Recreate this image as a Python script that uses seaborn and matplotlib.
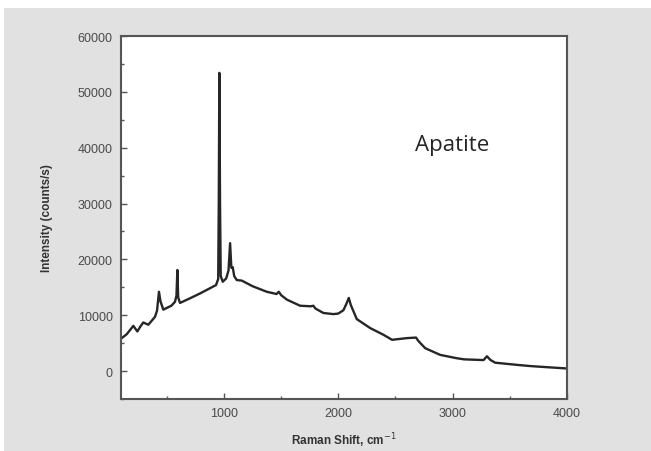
import matplotlib
matplotlib.use("Agg")
import matplotlib.pyplot as plt
import seaborn as sns
import pandas as pd
from matplotlib.patches import Rectangle
from matplotlib.ticker import MultipleLocator

raman_shift = [100, 150, 208, 225, 243, 270, 295, 339, 397, 415, 432, 445, 470, 540,
               572, 585, 593, 600, 616, 700, 791, 931, 950, 955, 960, 966, 972, 990,
               1020, 1040, 1054, 1065, 1077, 1090, 1112, 1156, 1250, 1375, 1460, 1480,
               1500, 1550, 1666, 1760, 1782, 1800, 1870, 1957, 2000, 2045, 2070, 2092,
               2110, 2162, 2279, 2395, 2470, 2600, 2680, 2700, 2760, 2891, 3036, 3100,
               3270, 3300, 3330, 3372, 3580, 3678, 3763, 3988]
intensity = [5800, 6600, 8100, 7600, 7100, 8000, 8700, 8300, 9700, 10800, 14200, 12500,
             11000, 11700, 12400, 13500, 18100, 13200, 12200, 13000, 13900, 15400, 16500,
             30000, 53400, 30000, 17000, 16000, 16600, 18000, 22900, 18500, 18600, 17000,
             16300, 16200, 15200, 14200, 13800, 14200, 13600, 12800, 11700, 11600, 11700,
             11200, 10400, 10200, 10300, 10900, 12000, 13100, 11800, 9300, 7700, 6500,
             5600, 5900, 6000, 5400, 4100, 2900, 2300, 2100, 1970, 2650, 2000, 1500, 1080,
             900, 780, 480]

x_label = "Raman Shift, cm$^{-1}$"
y_label = "Intensity (counts/s)"
annotation = "Apatite"

sns.set_theme(style="ticks")
plt.rcParams['font.family'] = ['Liberation Sans', 'DejaVu Sans']

df = pd.DataFrame({"shift": raman_shift, "intensity": intensity})

fig = plt.figure(figsize=(6.51, 4.52), dpi=100, facecolor="white")
bg = Rectangle((4 / 651, 0), 1 - 4 / 651, 1 - 9 / 452,
               transform=fig.transFigure, facecolor="#e1e1e1",
               edgecolor="none", zorder=-10)
fig.add_artist(bg)
ax = fig.add_axes([121 / 651, 52 / 452, 446 / 651, 363 / 452])
ax.set_zorder(1)
ax.set_facecolor("white")

sns.lineplot(data=df, x="shift", y="intensity", ax=ax, color="#262626",
             linewidth=1.7, estimator=None)

ax.set_xlim(100, 4000)
ax.set_ylim(-5000, 60000)
ax.xaxis.set_major_locator(MultipleLocator(1000))
ax.xaxis.set_minor_locator(MultipleLocator(500))
ax.yaxis.set_major_locator(MultipleLocator(10000))
ax.yaxis.set_minor_locator(MultipleLocator(5000))
ax.tick_params(axis="both", which="major", direction="in", length=4, width=1,
               color="#555555", labelsize=9, labelcolor="#4a4a4a", pad=6)
ax.tick_params(axis="both", which="minor", direction="in", length=2.5, width=1,
               color="#555555")
for s in ax.spines.values():
    s.set_color("#555555")
    s.set_linewidth(1.5)

ax.set_xlabel(x_label, fontsize=8.5, fontweight="bold", color="#333333", labelpad=8)
ax.set_ylabel(y_label, fontsize=8.5, fontweight="bold", color="#333333", labelpad=18)

ax.text(2996, 40500, annotation, fontsize=16, color="#262626", ha="center",
        va="center", family=["Open Sans", "DejaVu Sans"])

fig.savefig("out.png", dpi=100, facecolor=fig.get_facecolor())
